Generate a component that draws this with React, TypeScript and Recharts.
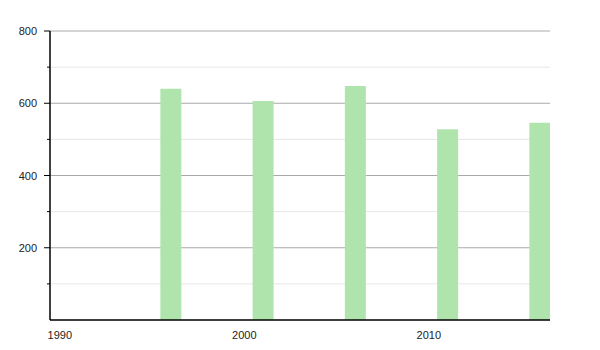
import React from 'react';
import { ComposedChart, Bar, XAxis, YAxis, CartesianGrid } from 'recharts';

const years = [1996, 2001, 2006, 2011, 2016];
const values = [640, 606, 648, 528, 546];
const xTicks = [1990, 2000, 2010];
const yTicks = [100, 200, 300, 400, 500, 600, 700, 800];

const data = years.map((y, i) => ({ year: y, value: values[i] }));

const FONT = '"Liberation Sans", Arial, sans-serif';

const YTick = (props: any) => {
  const { y, payload } = props;
  const v = payload.value;
  const major = v % 200 === 0;
  return (
    <g>
      <line x1={50 - (major ? 6 : 3)} x2={50} y1={y} y2={y} stroke="#000" strokeWidth={1} />
      {major && (
        <text x={37} y={y} dy={4} textAnchor="end" fontSize={11} fill="#222" fontFamily={FONT}>
          {v}
        </text>
      )}
    </g>
  );
};

const XTick = (props: any) => {
  const { x, y, payload } = props;
  return (
    <text x={x} y={y} dy={11} textAnchor="middle" fontSize={11} fill="#222" fontFamily={FONT}>
      {payload.value}
    </text>
  );
};

const GridLine = (props: any) => {
  const { x1, x2, y1, y2, index } = props;
  const v = yTicks[index];
  const major = v !== undefined && v % 200 === 0;
  return <line x1={x1} x2={x2} y1={y1} y2={y2} stroke={major ? '#aaaaaa' : '#e6e6e6'} strokeWidth={1} />;
};

export default function App() {
  return (
    <div style={{ position: 'absolute', left: 0, top: 0, background: '#fff' }}>
      <ComposedChart
        width={600}
        height={350}
        data={data}
        margin={{ top: 31, right: 50, bottom: 10, left: 0 }}
      >
        <CartesianGrid vertical={false} horizontal={<GridLine />} />
        <XAxis
          dataKey="year"
          type="number"
          domain={[1989.47, 2016.57]}
          ticks={xTicks}
          tickLine={false}
          axisLine={{ stroke: '#000', strokeWidth: 1.5 }}
          tick={<XTick />}
          height={20}
          allowDataOverflow
        />
        <YAxis
          type="number"
          domain={[0, 800]}
          ticks={yTicks}
          tickLine={false}
          axisLine={{ stroke: '#000', strokeWidth: 1.5 }}
          tick={<YTick />}
          width={50}
          interval={0}
        />
        <Bar dataKey="value" fill="#b0e4ad" barSize={21} isAnimationActive={false} />
      </ComposedChart>
    </div>
  );
}
